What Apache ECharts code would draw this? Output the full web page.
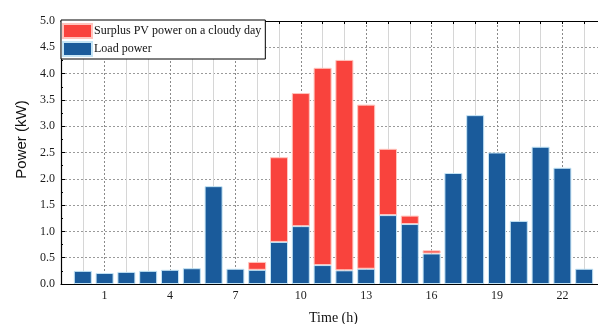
<!DOCTYPE html>
<html>
<head>
<meta charset="utf-8">
<script src="https://cdn.jsdelivr.net/npm/echarts@6/dist/echarts.min.js"></script>
<style>html,body{margin:0;padding:0;background:#fff}#c{width:598px;height:324px}</style>
</head>
<body>
<div id="c"></div>
<script>
const hours = [0,1,2,3,4,5,6,7,8,9,10,11,12,13,14,15,16,17,18,19,20,21,22,23];
const loadPower = [0.25,0.21,0.23,0.25,0.27,0.30,1.86,0.29,0.27,0.80,1.10,0.36,0.26,0.29,1.31,1.14,0.58,2.11,3.21,2.50,1.20,2.61,2.21,0.29];
const surplusPV = [0,0,0,0,0,0,0,0,0.15,1.61,2.53,3.75,4.00,3.12,1.26,0.16,0.06,0,0,0,0,0,0,0];
const labeledHours = [1,4,7,10,13,16,19,22];
const seriesNames = ['Surplus PV power on a cloudy day','Load power'];

const cats = ['-1'].concat(hours.map(String), ['24']);
const pad = arr => [null].concat(arr.map(v => v === 0 ? null : v), [null]);
const isMajor = i => labeledHours.indexOf(Number(cats[i])) >= 0;
const serif = 'Liberation Serif';

const chart = echarts.init(document.getElementById('c'), null, {renderer:'canvas'});
chart.setOption({
  animation:false,
  backgroundColor:'#fff',
  grid:{left:61, top:21, right:-8, bottom:40, containLabel:false, outerBoundsMode:'none'},
  legend:{
    data:seriesNames, orient:'vertical', left:61, top:20,
    itemWidth:29, itemHeight:14, itemGap:2, icon:'rect',
    padding:[3,4,2,1], borderColor:'#000', borderWidth:1, backgroundColor:'#fff',
    textStyle:{fontFamily:serif, fontSize:12, color:'#111', padding:[0,0,0,-3]}
  },
  xAxis:[{
    type:'category', data:cats, boundaryGap:false, position:'bottom',
    axisLine:{lineStyle:{color:'#000', width:1.2}},
    axisTick:{inside:true, length:3, interval:0, lineStyle:{color:'#000'}},
    axisLabel:{interval:(i)=>isMajor(i), fontFamily:serif, fontSize:12, color:'#1a1a1a', margin:6},
    splitLine:{show:true, interval:(i)=>isMajor(i), lineStyle:{color:'#8a8a8a', type:[2,2], width:1}},
    name:'Time (h)', nameLocation:'middle', nameGap:27,
    nameTextStyle:{fontFamily:serif, fontSize:14, color:'#111'}
  },{
    type:'category', data:cats, boundaryGap:false, position:'top',
    axisLine:{lineStyle:{color:'#000', width:1.2}},
    axisTick:{inside:true, length:3, interval:0, lineStyle:{color:'#000'}},
    axisLabel:{show:false},
    splitLine:{show:true, interval:(i)=>!isMajor(i), lineStyle:{color:'#d6d6d6', width:1}}
  }],
  yAxis:{
    type:'value', min:0, max:5, interval:0.5,
    axisLine:{show:true, lineStyle:{color:'#000', width:1.2}},
    axisTick:{show:true, inside:true, length:4, lineStyle:{color:'#000'}},
    minorTick:{show:true, splitNumber:2, length:2, lineStyle:{color:'#000'}},
    axisLabel:{formatter:v=>v.toFixed(1), fontFamily:serif, fontSize:12, color:'#1a1a1a', margin:6},
    splitLine:{show:true, lineStyle:{color:'#9a9a9a', type:[2,2], width:1}},
    name:'Power (kW)', nameLocation:'middle', nameGap:32, nameRotate:90,
    nameTextStyle:{fontFamily:'Liberation Sans', fontSize:15, color:'#111', padding:[0,0,0,26]}
  },
  series:[{
    name:seriesNames[1], type:'bar', stack:'p', data:pad(loadPower), barWidth:18,
    itemStyle:{color:'#1A5B9B', borderColor:'#c4e4f5', borderWidth:1}
  },{
    name:seriesNames[0], type:'bar', stack:'p', data:pad(surplusPV), barWidth:18,
    itemStyle:{color:'#F9433D', borderColor:'#ffc4bd', borderWidth:1}
  }]
});
</script>
</body>
</html>
